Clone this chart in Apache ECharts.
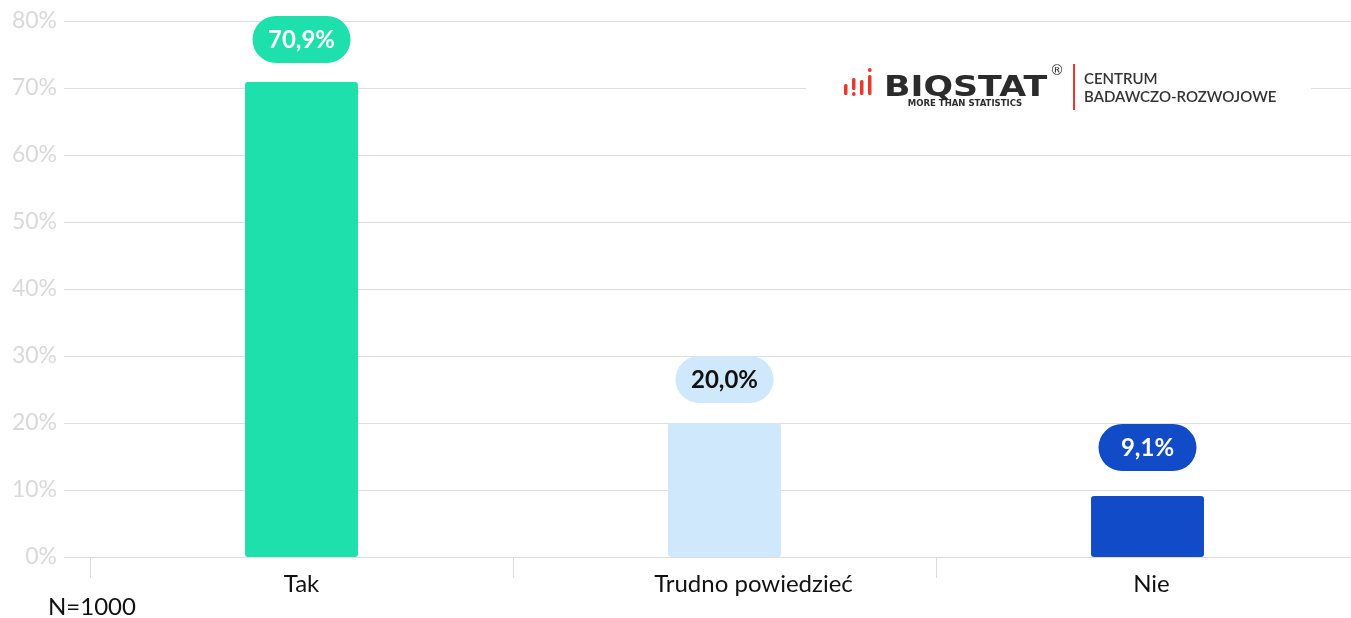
<!DOCTYPE html>
<html>
<head>
<meta charset="utf-8">
<script src="https://cdn.jsdelivr.net/npm/echarts@6/dist/echarts.min.js"></script>
<style>
  html, body { margin: 0; padding: 0; background: #fff; overflow: hidden; }
  /* wykres szerszy niż okno - ostatnia kategoria wychodzi poza prawą krawędź */
  #main { width: 1360px; height: 618px; }
</style>
</head>
<body>
<div id="main"></div>
<script>
const categories = ["Tak", "Trudno powiedzieć", "Nie"];
const values = [70.9, 20.0, 9.1];
const yTicks = [0, 10, 20, 30, 40, 50, 60, 70, 80];
const sampleNote = "N=1000";

// kolory słupków i etykiet
const barColors = ["#1DE0AC", "#D0E8FC", "#124BC8"];
const labelTextColors = ["#fff", "#111", "#fff"];
const labelDistances = [19, 20, 25];
// przesunięcie podpisów osi X (jak w oryginale)
const axisLabelShift = [0, 58, 8];

const FONT = "Lato, 'Noto Sans', sans-serif";
const chart = echarts.init(document.getElementById("main"), null, { renderer: "canvas" });

const fmt = (v) => v.toFixed(1).replace(".", ",") + "%";

const barData = values.map((v, i) => ({
  value: v,
  itemStyle: { color: barColors[i], borderRadius: 3 },
  label: {
    color: labelTextColors[i],
    backgroundColor: barColors[i],
    distance: labelDistances[i],
  },
}));

const axisData = categories.map((c, i) => ({
  value: c,
  textStyle: { padding: [0, 0, 0, axisLabelShift[i]] },
}));

const red = "#E8392F";
const option = {
  animation: false,
  backgroundColor: "#fff",
  grid: [
    { left: 90, top: 21, right: 1, bottom: 61 },
    // tło z liniami siatki (od lewej krawędzi)
    { left: 64, top: 21, right: 0, bottom: 61 },
  ],
  xAxis: [
    {
      type: "category",
      gridIndex: 0,
      data: axisData,
      axisLine: { show: false },
      axisTick: { show: true, length: 21, lineStyle: { color: "#dcdcdc" } },
      axisLabel: { color: "#111", fontSize: 24, fontFamily: FONT, margin: 15 },
    },
    { type: "value", gridIndex: 1, show: false },
  ],
  yAxis: [
    {
      type: "value",
      gridIndex: 0,
      min: yTicks[0],
      max: yTicks[yTicks.length - 1],
      interval: 10,
      show: false,
      splitLine: { show: false },
    },
    {
      type: "value",
      gridIndex: 1,
      min: yTicks[0],
      max: yTicks[yTicks.length - 1],
      interval: 10,
      axisLine: { show: false },
      axisTick: { show: false },
      axisLabel: {
        formatter: (v) => v + "%",
        color: "#D9D9D9",
        fontSize: 23,
        fontFamily: FONT,
        margin: 7,
      },
      splitLine: { lineStyle: { color: "#DEDEDE", width: 1 } },
    },
  ],
  graphic: [
    // logo
    { type: "rect", left: 806, top: 62, shape: { width: 505, height: 52 }, style: { fill: "#fff" }, z: 10 },
    { type: "rect", x: 844, y: 84, shape: { width: 3.5, height: 11, r: 1.5 }, style: { fill: red }, z: 11 },
    { type: "rect", x: 852, y: 78, shape: { width: 3.5, height: 12, r: 1.5 }, style: { fill: red }, z: 11 },
    { type: "circle", shape: { cx: 853.8, cy: 94, r: 1.9 }, style: { fill: red }, z: 11 },
    { type: "rect", x: 860, y: 80, shape: { width: 3.5, height: 15, r: 1.5 }, style: { fill: red }, z: 11 },
    { type: "circle", shape: { cx: 869.8, cy: 70, r: 1.9 }, style: { fill: red }, z: 11 },
    { type: "rect", x: 868, y: 75, shape: { width: 3.5, height: 20, r: 1.5 }, style: { fill: red }, z: 11 },
    {
      type: "text", x: 884, y: 74, scaleX: 1.2, z: 11,
      style: { text: "BIQSTAT", fill: "#2b2b2b", font: "bold 29px 'DejaVu Sans', sans-serif" },
    },
    {
      type: "text", x: 1050, y: 64, z: 11,
      style: { text: "®", fill: "#333", font: "14px 'DejaVu Sans', sans-serif" },
    },
    {
      type: "text", x: 965, y: 104, z: 11,
      style: { text: "MORE THAN STATISTICS", fill: "#2b2b2b", font: "bold 8.5px 'DejaVu Sans', sans-serif", align: "center", verticalAlign: "middle" },
    },
    { type: "rect", x: 1073, y: 64, shape: { width: 2, height: 46 }, style: { fill: red }, z: 11 },
    {
      type: "text", x: 1084, y: 79, z: 11,
      style: { text: "CENTRUM", fill: "#333", font: "600 15px Lato, sans-serif", verticalAlign: "middle" },
    },
    {
      type: "text", x: 1084, y: 97, z: 11,
      style: { text: "BADAWCZO-ROZWOJOWE", fill: "#333", font: "600 15px Lato, sans-serif", verticalAlign: "middle" },
    },
    {
      type: "text", left: 48, top: 595,
      style: { text: sampleNote, fill: "#111", font: "24px Lato, sans-serif" },
    },
  ],
  series: [
    {
      type: "bar",
      xAxisIndex: 0,
      yAxisIndex: 0,
      data: barData,
      barWidth: "26.7%",
      label: {
        show: true,
        position: "top",
        formatter: (p) => fmt(p.value),
        fontSize: 24,
        fontWeight: "bold",
        fontFamily: FONT,
        width: 66,
        align: "center",
        padding: [12, 16, 11, 16],
        borderRadius: 24,
      },
    },
  ],
};

chart.setOption(option);
</script>
</body>
</html>
